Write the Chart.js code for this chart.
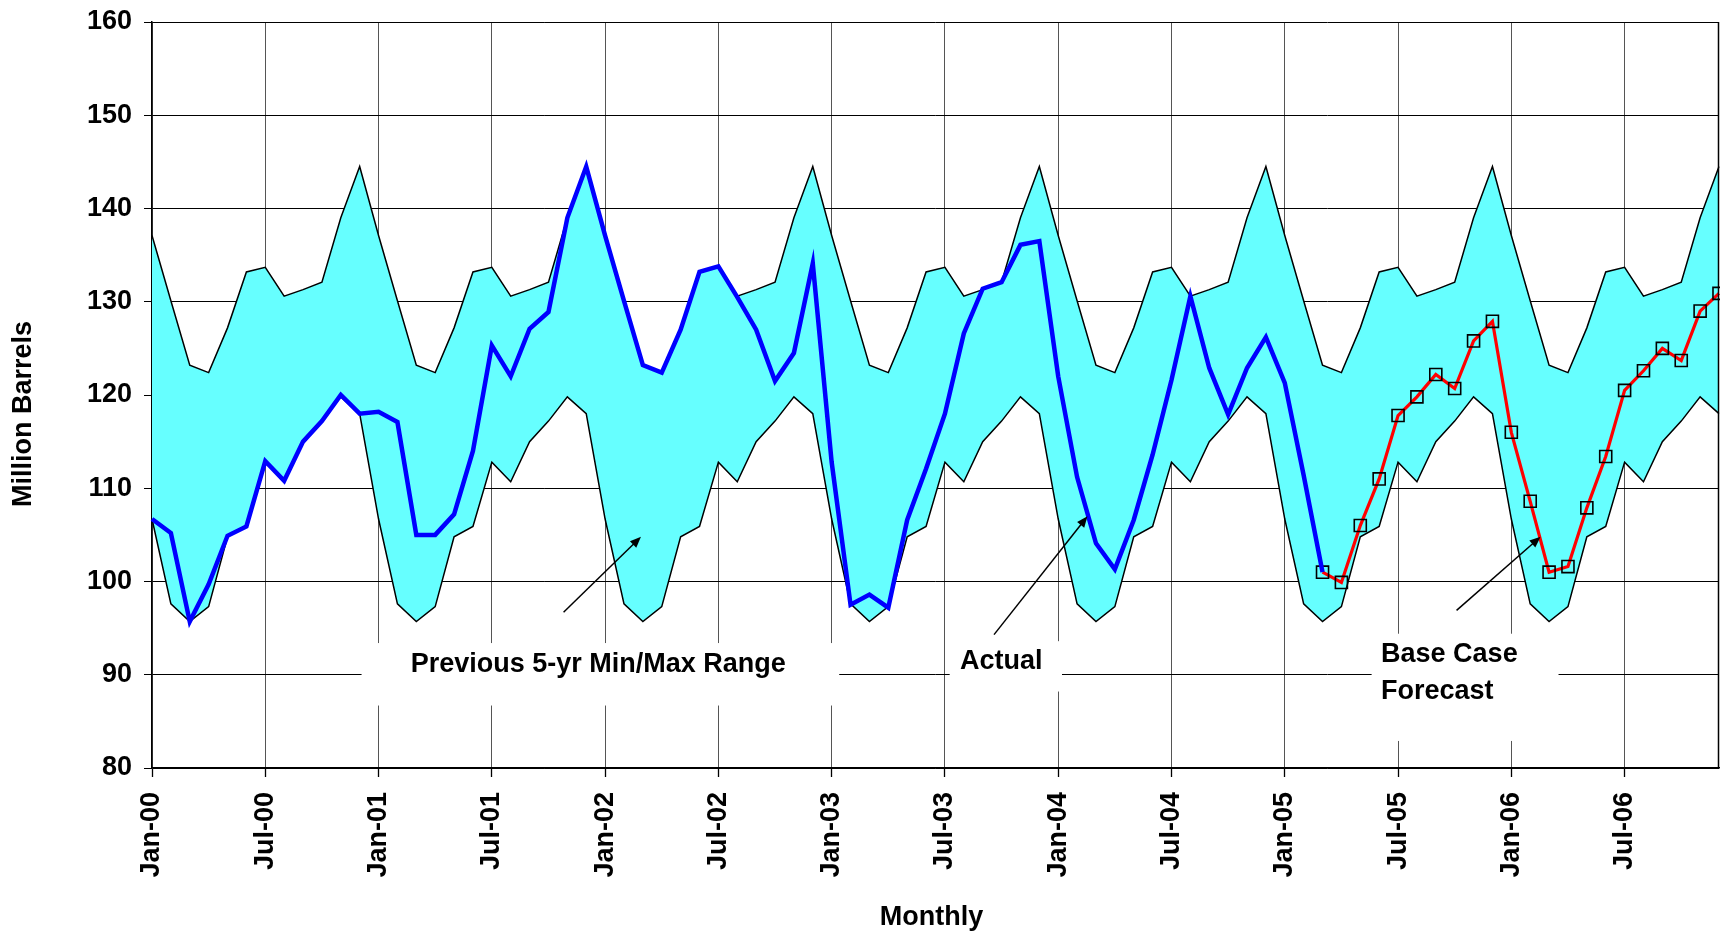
<!DOCTYPE html>
<html>
<head>
<meta charset="utf-8">
<title>Stocks - Million Barrels</title>
<script src="https://cdn.jsdelivr.net/npm/chart.js@4.4.1/dist/chart.umd.min.js"></script>
<style>
    html, body { margin: 0; padding: 0; background: #fff; }
    #stockChart { display: block; }
</style>
</head>
<body>
<canvas id="stockChart" width="1720" height="935"></canvas>
<script>
// Catégories : mois et années
const months = ['Jan', 'Feb', 'Mar', 'Apr', 'May', 'Jun', 'Jul', 'Aug', 'Sep', 'Oct', 'Nov', 'Dec'];
const years = ['00', '01', '02', '03', '04', '05', '06'];

// Plage min/max des 5 années précédentes
const rangeMax = [
    137.1, 130.1, 123.2, 122.4, 127.2, 133.2, 133.7, 130.6, 131.3, 132.1, 139.0, 144.5,
    137.1, 130.1, 123.2, 122.4, 127.2, 133.2, 133.7, 130.6, 131.3, 132.1, 139.0, 144.5,
    137.1, 130.1, 123.2, 122.4, 127.2, 133.2, 133.7, 130.6, 131.3, 132.1, 139.0, 144.5,
    137.1, 130.1, 123.2, 122.4, 127.2, 133.2, 133.7, 130.6, 131.3, 132.1, 139.0, 144.5,
    137.1, 130.1, 123.2, 122.4, 127.2, 133.2, 133.7, 130.6, 131.3, 132.1, 139.0, 144.5,
    137.1, 130.1, 123.2, 122.4, 127.2, 133.2, 133.7, 130.6, 131.3, 132.1, 139.0, 144.5,
    137.1, 130.1, 123.2, 122.4, 127.2, 133.2, 133.7, 130.6, 131.3, 132.1, 139.0, 144.5
];
const rangeMin = [
    106.7, 97.6, 95.7, 97.3, 104.8, 105.9, 112.8, 110.7, 115.0, 117.2, 119.8, 118.0,
    106.7, 97.6, 95.7, 97.3, 104.8, 105.9, 112.8, 110.7, 115.0, 117.2, 119.8, 118.0,
    106.7, 97.6, 95.7, 97.3, 104.8, 105.9, 112.8, 110.7, 115.0, 117.2, 119.8, 118.0,
    106.7, 97.6, 95.7, 97.3, 104.8, 105.9, 112.8, 110.7, 115.0, 117.2, 119.8, 118.0,
    106.7, 97.6, 95.7, 97.3, 104.8, 105.9, 112.8, 110.7, 115.0, 117.2, 119.8, 118.0,
    106.7, 97.6, 95.7, 97.3, 104.8, 105.9, 112.8, 110.7, 115.0, 117.2, 119.8, 118.0,
    106.7, 97.6, 95.7, 97.3, 104.8, 105.9, 112.8, 110.7, 115.0, 117.2, 119.8, 118.0
];

// Valeurs réelles, Jan-00 à Mar-05
const actual = [
    106.7, 105.2, 95.7, 99.7, 104.9, 105.9, 112.9, 110.8, 115.0, 117.2, 120.0, 118.0,
    118.2, 117.1, 105.0, 105.0, 107.2, 114.0, 125.3, 122.0, 127.1, 128.9, 139.0, 144.5,
    137.1, 130.1, 123.2, 122.4, 127.0, 133.2, 133.8, 130.5, 127.0, 121.5, 124.5, 134.1,
    112.8, 97.5, 98.6, 97.2, 106.6, 112.1, 118.0, 126.6, 131.4, 132.1, 136.1, 136.5,
    122.0, 111.2, 104.1, 101.3, 106.6, 113.6, 121.6, 130.6, 122.9, 117.9, 122.9, 126.2,
    121.3, 111.4, 101.0
];

// Prévision de base, Mar-05 à Dec-06
const forecastStart = 62;
const forecast = [
    101.0, 99.9, 106.0, 111.0, 117.8, 119.8, 122.2, 120.7, 125.8, 127.9,
    116.0, 108.6, 101.0, 101.6, 107.9, 113.4, 120.5, 122.6, 125.0, 123.7, 129.0, 130.9
];

const yMin = 80;
const yMax = 160;
const yStep = 10;

const labels = [];
years.forEach(yr => months.forEach(m => labels.push(m + '-' + yr)));
const forecastData = new Array(forecastStart).fill(null).concat(forecast);

const FONT_FAMILY = '"Liberation Sans", Arial, sans-serif';
const FONT = 'bold 27px ' + FONT_FAMILY;

// Annotations : texte, boîte blanche et flèche (en unités d'axes)
const notes = [
    { lines: ['Previous 5-yr Min/Max Range'], x: 13.7, y: [91.1],
      box: [11.1, 36.4, 93.4, 86.7], arrow: [21.8, 96.7, 25.9, 104.8] },
    { lines: ['Actual'], x: 42.8, y: [91.4],
      box: [42.25, 48.2, 93.6, 88.2], arrow: [44.6, 94.3, 49.55, 107.0] },
    { lines: ['Base Case', 'Forecast'], x: 65.1, y: [92.15, 88.2],
      box: [64.6, 74.5, 94.4, 82.9], arrow: [69.1, 96.9, 73.55, 104.8] }
];

const annotationPlugin = {
    id: 'annotations',
    beforeDatasetsDraw(chart) {
        const { ctx, scales: { x, y } } = chart;
        ctx.save();
        ctx.fillStyle = '#fff';
        notes.forEach(n => {
            const l = x.getPixelForValue(n.box[0]);
            const r = x.getPixelForValue(n.box[1]);
            const t = y.getPixelForValue(n.box[2]);
            const b = y.getPixelForValue(n.box[3]);
            ctx.fillRect(l, t, r - l, b - t);
        });
        ctx.restore();
    },
    afterDatasetsDraw(chart) {
        const { ctx, chartArea, scales: { x, y } } = chart;
        ctx.save();
        // bordure droite du graphique
        ctx.strokeStyle = '#000';
        ctx.lineWidth = 1.5;
        ctx.beginPath();
        ctx.moveTo(chartArea.right - 0.5, chartArea.top);
        ctx.lineTo(chartArea.right - 0.5, chartArea.bottom);
        ctx.stroke();

        notes.forEach(n => {
            const x0 = x.getPixelForValue(n.arrow[0]);
            const y0 = y.getPixelForValue(n.arrow[1]);
            const x1 = x.getPixelForValue(n.arrow[2]);
            const y1 = y.getPixelForValue(n.arrow[3]);
            const ang = Math.atan2(y1 - y0, x1 - x0);
            ctx.strokeStyle = '#000';
            ctx.lineWidth = 1.5;
            ctx.beginPath();
            ctx.moveTo(x0, y0);
            ctx.lineTo(x1 - 6 * Math.cos(ang), y1 - 6 * Math.sin(ang));
            ctx.stroke();
            ctx.fillStyle = '#000';
            ctx.beginPath();
            ctx.moveTo(x1, y1);
            ctx.lineTo(x1 - 11 * Math.cos(ang) + 4.5 * Math.sin(ang), y1 - 11 * Math.sin(ang) - 4.5 * Math.cos(ang));
            ctx.lineTo(x1 - 11 * Math.cos(ang) - 4.5 * Math.sin(ang), y1 - 11 * Math.sin(ang) + 4.5 * Math.cos(ang));
            ctx.closePath();
            ctx.fill();

            ctx.font = FONT;
            ctx.textAlign = 'left';
            ctx.textBaseline = 'middle';
            n.lines.forEach((txt, i) => {
                ctx.fillText(txt, x.getPixelForValue(n.x), y.getPixelForValue(n.y[i]));
            });
        });
        ctx.restore();
    },
    afterDraw(chart) {
        const { ctx, chartArea } = chart;
        ctx.save();
        ctx.font = FONT;
        ctx.fillStyle = '#000';
        ctx.textAlign = 'center';
        ctx.textBaseline = 'middle';
        // titres des axes
        ctx.fillText('Monthly', (chartArea.left + chartArea.right) / 2 - 4, 918);
        ctx.translate(24, (chartArea.top + chartArea.bottom) / 2 + 19);
        ctx.rotate(-Math.PI / 2);
        ctx.fillText('Million Barrels', 0, 0);
        ctx.restore();
    }
};

document.addEventListener('DOMContentLoaded', function() {
    const ctx = document.getElementById('stockChart').getContext('2d');
    const tickFont = { family: FONT_FAMILY, size: 27, weight: 'bold' };

    new Chart(ctx, {
        type: 'line',
        data: {
            labels: labels,
            datasets: [
                {
                    label: 'Actual',
                    data: actual,
                    borderColor: '#0000FF',
                    borderWidth: 4.5,
                    pointRadius: 0,
                    fill: false
                },
                {
                    label: 'Base Case Forecast',
                    data: forecastData,
                    borderColor: '#FF0000',
                    borderWidth: 3.2,
                    pointStyle: 'rect',
                    pointRadius: 8.5,
                    pointBorderColor: '#000',
                    pointBackgroundColor: 'rgba(0,0,0,0)',
                    pointBorderWidth: 1.6,
                    fill: false
                },
                {
                    label: 'Max',
                    data: rangeMax,
                    borderColor: '#000',
                    borderWidth: 1.5,
                    pointRadius: 0,
                    fill: false
                },
                {
                    label: 'Min',
                    data: rangeMin,
                    borderColor: '#000',
                    borderWidth: 1.5,
                    pointRadius: 0,
                    backgroundColor: '#66FFFF',
                    fill: '-1'
                }
            ]
        },
        options: {
            responsive: false,
            animation: false,
            devicePixelRatio: 1,
            layout: { autoPadding: false, padding: { left: 0, right: 1, top: 22, bottom: 0 } },
            elements: { line: { tension: 0 } },
            plugins: {
                legend: { display: false },
                tooltip: { enabled: false }
            },
            scales: {
                x: {
                    grid: { color: '#555', lineWidth: 1, tickLength: 9, tickColor: '#000', tickWidth: 1.3 },
                    border: { color: '#000', width: 1.5 },
                    ticks: {
                        autoSkip: false,
                        minRotation: 90,
                        maxRotation: 90,
                        padding: 15,
                        color: '#000',
                        font: tickFont,
                        callback: function(v, i) { return i % 6 === 0 ? labels[i] : null; }
                    },
                    afterFit: function(scale) {
                        scale.height = 167;
                        scale.paddingLeft = 0;
                        scale.paddingRight = 0;
                    }
                },
                y: {
                    min: yMin,
                    max: yMax,
                    grid: { color: '#000', lineWidth: 1, tickLength: 8, tickColor: '#000' },
                    border: { color: '#000', width: 1.5 },
                    ticks: { stepSize: yStep, padding: 12, color: '#000', font: tickFont },
                    afterFit: function(scale) {
                        scale.width = 152;
                        scale.paddingTop = 0;
                        scale.paddingBottom = 0;
                    }
                }
            }
        },
        plugins: [annotationPlugin]
    });
});
</script>
</body>
</html>
